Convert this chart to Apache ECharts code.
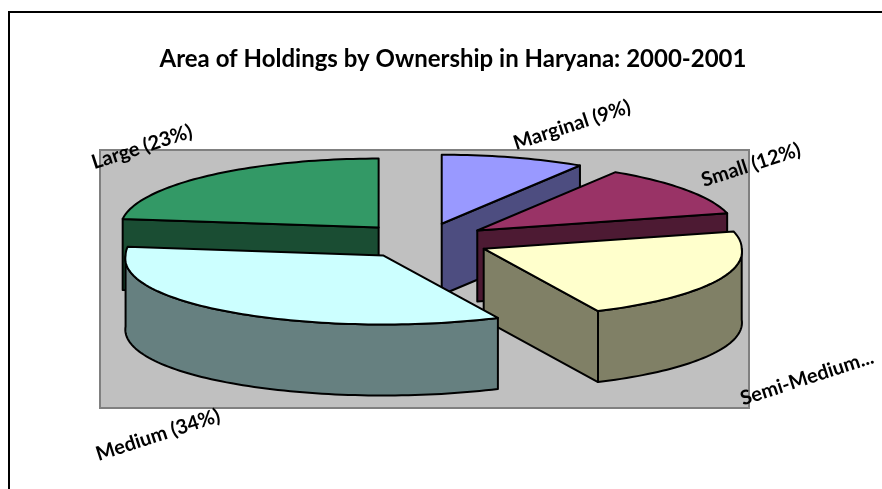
<!DOCTYPE html>
<html>
<head>
<meta charset="utf-8">
<style>
  html, body { margin: 0; padding: 0; background: #fff; }
  #chart_example { width: 882px; height: 489px; }
</style>
<script src="https://cdn.jsdelivr.net/npm/echarts@6/dist/echarts.min.js"></script>
</head>
<body>
<div id="chart_example"></div>
<script>
var titleText = "Area of Holdings by Ownership in Haryana: 2000-2001";
var categories = ["Marginal", "Small", "Semi-Medium", "Medium", "Large"];
var shares = [9, 12, 22, 34, 23];
var sliceLabels = ["Marginal (9%)", "Small (12%)", "Semi-Medium...", "Medium (34%)", "Large (23%)"];
var topColors = ["#9999ff", "#993366", "#ffffcc", "#ccffff", "#339966"];
var sideColors = ["#4d4d80", "#4d1a33", "#808066", "#668080", "#1a4d33"];
// back to front, so the nearer slices cover the others
var drawOrder = [4, 0, 1, 2, 3];

// label anchors (centre of the text), all rotated the same way
var labelX = [572, 751, 807, 158, 142];
var labelY = [125, 165, 378, 435, 147];

var font = 'Lato, "Open Sans", sans-serif';
var depth = 71;
var explode = 0.26;
var frontWiden = 0.045; // the near edge of the pie is a bit wider in the original
var total = shares.reduce(function(a, b) { return a + b; }, 0);

var starts = [];
shares.reduce(function(sum, v, i) {
  starts[i] = sum;
  return sum + v;
}, 0);

function renderSlice(params, api) {
  var i = api.value(0);
  var a = (starts[i] / total) * Math.PI * 2;
  var b = ((starts[i] + shares[i]) / total) * Math.PI * 2;
  var mid = (a + b) / 2;
  var ox = Math.sin(mid) * explode;
  var oy = Math.cos(mid) * explode;

  // angle is clockwise from 12 o'clock, x/y axes run -1..1 on the ellipse
  function pt(t, r) {
    var c = Math.cos(t);
    var w = 1 + frontWiden * Math.max(0, -c);
    return api.coord([ox + Math.sin(t) * r * w, oy + c * r]);
  }
  function down(p) {
    return [p[0], p[1] + depth];
  }
  function arc(from, to) {
    var pts = [];
    var n = Math.max(2, Math.ceil(Math.abs(to - from) * 40));
    for (var k = 0; k <= n; k++) {
      pts.push(pt(from + ((to - from) * k) / n, 1));
    }
    return pts;
  }

  function poly(points, fill) {
    return {
      type: "polygon",
      shape: { points: points },
      style: { fill: fill, stroke: "#000", lineWidth: 2, lineJoin: "round" }
    };
  }

  var apex = pt(0, 0);
  var children = [];
  var side = sideColors[i];

  // radial walls that face the viewer
  if (Math.sin(a) < 0) {
    children.push(poly([apex, pt(a, 1), down(pt(a, 1)), down(apex)], side));
  }
  if (Math.sin(b) > 0) {
    children.push(poly([apex, pt(b, 1), down(pt(b, 1)), down(apex)], side));
  }
  // outer wall, only the front half of the ellipse
  var f = Math.max(a, Math.PI / 2);
  var t = Math.min(b, (Math.PI * 3) / 2);
  if (t > f) {
    var rim = arc(f, t);
    children.push(poly(rim.concat(rim.slice().reverse().map(down)), side));
  }
  // top face
  children.push(poly([apex].concat(arc(a, b)), topColors[i]));

  children.forEach(function(c, k) {
    c.z2 = k + 1;
  });
  return { type: "group", children: children };
}

var myChart = echarts.init(document.getElementById("chart_example"), null, { renderer: "canvas" });

var graphics = [
  // outer chart frame, the crop cuts it off on the right and at the bottom
  {
    type: "polyline",
    shape: { points: [[9, 489], [9, 12], [882, 12]] },
    style: { stroke: "#000", lineWidth: 2, fill: null },
    z: 0
  },
  // plot area
  {
    type: "rect",
    shape: { x: 100, y: 150, width: 649, height: 258 },
    style: { fill: "#c0c0c0", stroke: "#808080", lineWidth: 2 },
    z: 0
  }
];
sliceLabels.forEach(function(text, i) {
  graphics.push({
    type: "text",
    x: labelX[i],
    y: labelY[i],
    rotation: (18 * Math.PI) / 180,
    style: {
      text: text,
      fill: "#000",
      font: "bold 20px " + font,
      align: "center",
      verticalAlign: "middle"
    },
    z: 5
  });
});

var option = {
  animation: false,
  backgroundColor: "#fff",
  title: {
    text: titleText,
    left: 448,
    top: 42,
    textAlign: "center",
    textStyle: { color: "#000", fontFamily: font, fontWeight: "bold", fontSize: 24 }
  },
  grid: { left: 165, top: 172, width: 516, height: 138 },
  xAxis: { type: "value", min: -1, max: 1, show: false },
  yAxis: { type: "value", min: -1, max: 1, show: false },
  graphic: graphics,
  series: [
    {
      type: "custom",
      coordinateSystem: "cartesian2d",
      renderItem: renderSlice,
      clip: false,
      silent: true,
      encode: { x: 0 },
      data: drawOrder.map(function(i) {
        return { name: categories[i], value: [i, shares[i]] };
      }),
      z: 2
    }
  ]
};
myChart.setOption(option);
</script>
</body>
</html>
